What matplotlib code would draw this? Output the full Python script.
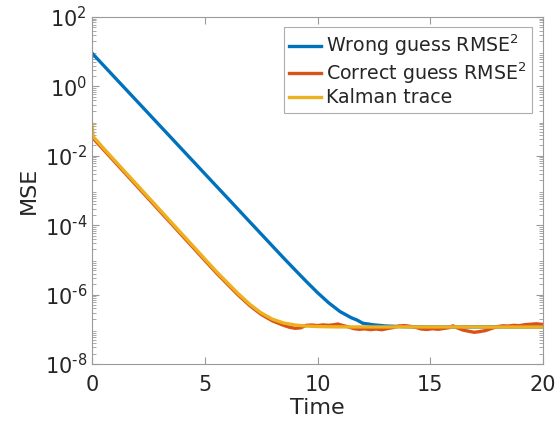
import numpy as np
import matplotlib
matplotlib.use('Agg')
import matplotlib.pyplot as plt
from matplotlib.ticker import LogLocator, FixedLocator, FixedFormatter

plt.rcParams['axes.unicode_minus'] = False
plt.rcParams['font.family'] = 'DejaVu Sans'

# values
t_wrong = [0, 0.5, 1, 1.5, 2, 2.5, 3, 3.5, 4, 4.5, 5, 5.5, 6, 6.5, 7, 7.5, 8, 8.5, 9, 9.5,
           10, 10.5, 11, 11.5, 11.75, 12, 12.25, 12.5, 13, 13.5, 14, 15, 16, 17, 18, 19, 20]
mse_wrong = [9.12, 4.10, 1.84, 0.827, 0.372, 0.167, 0.0750, 0.0337, 0.0151, 6.80e-3, 3.05e-3,
             1.37e-3, 6.17e-4, 2.77e-4, 1.24e-4, 5.59e-5, 2.51e-5, 1.13e-5, 5.19e-6, 2.40e-6,
             1.14e-6, 5.77e-7, 3.24e-7, 2.15e-7, 1.85e-7, 1.50e-7, 1.42e-7, 1.34e-7, 1.25e-7,
             1.21e-7, 1.18e-7, 1.17e-7, 1.17e-7, 1.17e-7, 1.17e-7, 1.17e-7, 1.17e-7]

t_correct = [0, 0.5, 1, 1.5, 2, 2.5, 3, 3.5, 4, 4.5, 5, 5.5, 6, 6.5, 7, 7.5, 8, 8.5, 8.75,
             9, 9.25, 9.5, 9.75, 10, 10.25, 10.5, 10.75, 10.9, 11.1, 11.35, 11.6, 11.85,
             12.1, 12.35, 12.6, 12.85, 13.1, 13.35, 13.6, 13.85, 14.1, 14.35, 14.6, 14.85,
             15.1, 15.35, 15.6, 15.85, 16.0, 16.2, 16.45, 16.7, 16.95, 17.2, 17.45, 17.7,
             17.95, 18.2, 18.45, 18.7, 18.95, 19.2, 19.45, 19.7, 20]
mse_correct = [3.47e-2, 1.53e-2, 6.76e-3, 2.99e-3, 1.32e-3, 5.82e-4, 2.57e-4, 1.14e-4, 5.01e-5,
               2.21e-5, 9.77e-6, 4.32e-6, 2.02e-6, 9.5e-7, 4.8e-7, 2.7e-7, 1.75e-7, 1.3e-7,
               1.15e-7, 1.07e-7, 1.1e-7, 1.3e-7, 1.33e-7, 1.28e-7, 1.34e-7, 1.30e-7, 1.36e-7,
               1.42e-7, 1.30e-7, 1.18e-7, 1.05e-7, 1.0e-7, 1.03e-7, 0.98e-7, 1.02e-7, 0.97e-7,
               1.05e-7, 1.12e-7, 1.24e-7, 1.28e-7, 1.22e-7, 1.14e-7, 1.02e-7, 0.99e-7, 1.04e-7,
               1.0e-7, 1.06e-7, 1.12e-7, 1.26e-7, 1.1e-7, 0.95e-7, 0.88e-7, 0.82e-7, 0.86e-7,
               0.92e-7, 1.05e-7, 1.18e-7, 1.26e-7, 1.24e-7, 1.3e-7, 1.27e-7, 1.36e-7, 1.40e-7,
               1.44e-7, 1.38e-7]

t_kalman = [0, 0.05, 0.5, 1, 1.5, 2, 2.5, 3, 3.5, 4, 4.5, 5, 5.5, 6, 6.5, 7, 7.5, 8, 8.5,
            9, 9.5, 10, 10.5, 11, 12, 14, 16, 18, 20]
mse_kalman = [8.0e-2, 3.6e-2, 1.68e-2, 7.41e-3, 3.27e-3, 1.45e-3, 6.38e-4, 2.82e-4, 1.24e-4,
              5.50e-5, 2.43e-5, 1.07e-5, 4.73e-6, 2.21e-6, 1.04e-6, 5.24e-7, 2.97e-7, 1.96e-7,
              1.52e-7, 1.33e-7, 1.24e-7, 1.20e-7, 1.18e-7, 1.17e-7, 1.17e-7, 1.17e-7, 1.17e-7,
              1.16e-7, 1.16e-7]

y_ticks = [1e-8, 1e-6, 1e-4, 1e-2, 1e0, 1e2]
y_tick_labels = ['10$^{\\text{-8}}$', '10$^{\\text{-6}}$', '10$^{\\text{-4}}$',
                 '10$^{\\text{-2}}$', '10$^{\\text{0}}$', '10$^{\\text{2}}$']
x_ticks = [0, 5, 10, 15, 20]

fig = plt.figure(figsize=(5.57, 4.25), dpi=100)
ax = fig.add_axes([92/557, 1 - 364/425, (543 - 92)/557, (364 - 17)/425])

ax.plot(t_wrong, mse_wrong, color='#0072BD', lw=2.4, label='Wrong guess RMSE$^2$')
ax.plot(t_correct, mse_correct, color='#D95319', lw=2.4, label='Correct guess RMSE$^2$')
ax.plot(t_kalman, mse_kalman, color='#EDB120', lw=2.4, label='Kalman trace')

ax.set_yscale('log')
ax.set_xlim(0, 20)
ax.set_ylim(1e-8, 1e2)
ax.yaxis.set_major_locator(FixedLocator(y_ticks))
ax.yaxis.set_major_formatter(FixedFormatter(y_tick_labels))
ax.yaxis.set_minor_locator(LogLocator(base=10, subs=np.arange(2, 10), numticks=20))
ax.set_xticks(x_ticks)

for s in ax.spines.values():
    s.set_color('#9a9a9a')
    s.set_linewidth(0.8)
ax.tick_params(which='both', direction='in', top=True, right=True, colors='#9a9a9a',
               labelcolor='#262626', labelsize=15)
ax.tick_params(which='major', length=5)
ax.tick_params(which='minor', length=3)
ax.tick_params(axis='x', pad=8)

ax.set_xlabel('Time', fontsize=16, color='#262626', labelpad=2)
ax.set_ylabel('MSE', fontsize=16, color='#262626', labelpad=4)

leg = ax.legend(loc='upper right', bbox_to_anchor=(1 - 11/451, 1 - 10/347), fontsize=13.7,
                frameon=True, fancybox=False, edgecolor='#9a9a9a', handlelength=1.65,
                handletextpad=0.25, labelspacing=0.12, borderpad=0.3, borderaxespad=0)
leg.get_frame().set_linewidth(0.8)
for txt in leg.get_texts():
    txt.set_color('#262626')

fig.savefig('out.png', dpi=100)
